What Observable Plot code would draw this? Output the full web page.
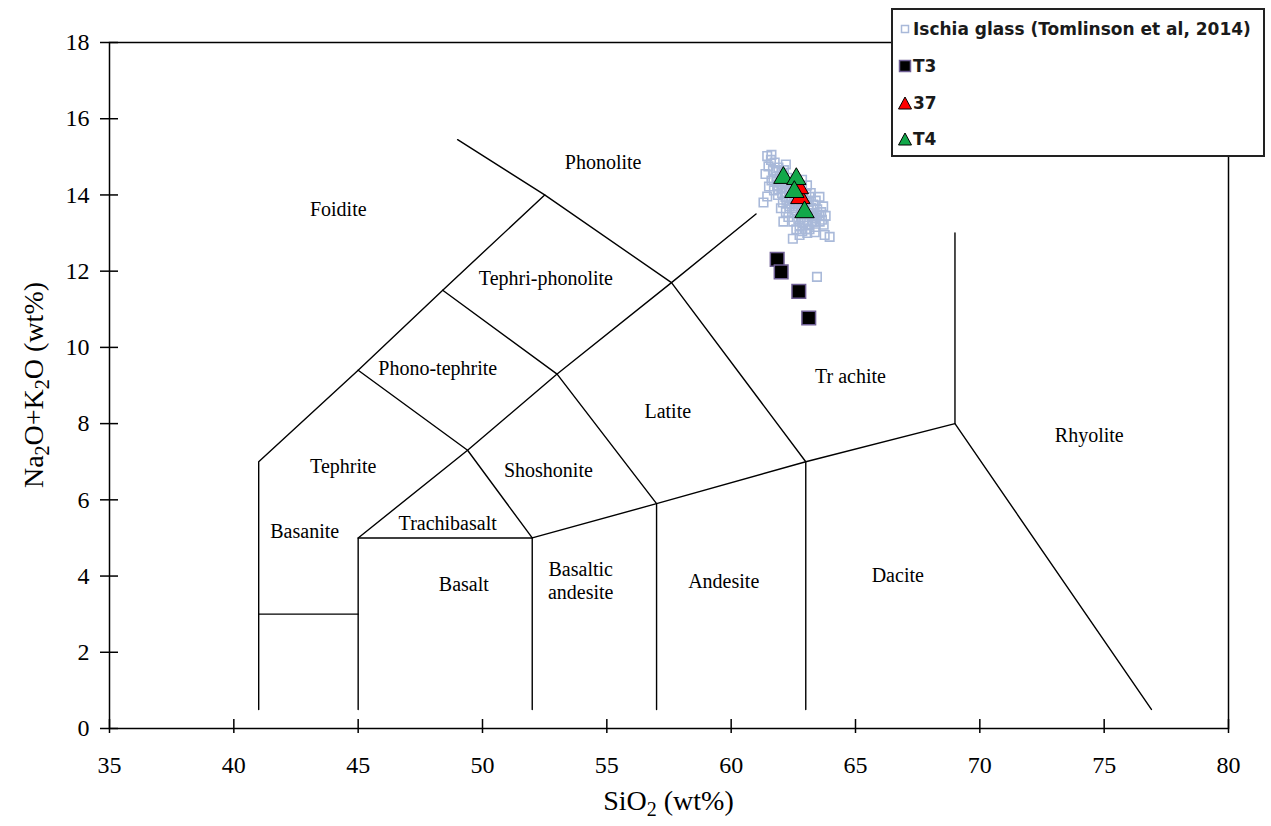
<!DOCTYPE html>
<html><head><meta charset="utf-8">
<script src="https://cdn.jsdelivr.net/npm/d3@7"></script>
<script src="https://cdn.jsdelivr.net/npm/@observablehq/plot@0.6"></script>
<style>
body{margin:0;background:#fff;}
#wrap{position:relative;width:1271px;height:826px;overflow:hidden;}
#legend{position:absolute;left:891px;top:8px;width:370px;height:145px;border:2px solid #222;background:#fff;font-family:"DejaVu Sans",sans-serif;font-weight:bold;font-size:17px;color:#1a1a1a;}
.row{position:absolute;left:5px;height:22px;display:flex;align-items:center;white-space:nowrap;}
.row svg{display:block;}
</style></head>
<body><div id="wrap"></div>
<script>
// ---- data ----
const xTicks = [35,40,45,50,55,60,65,70,75,80];
const yTicks = [0,2,4,6,8,10,12,14,16,18];

// TAS field boundaries (polylines, SiO2 vs Na2O+K2O)
const boundaries = [
  [[41,0.5],[41,7],[45,9.4],[48.4,11.5],[52.5,14],[49,15.45]],
  [[41,3],[45,3]],
  [[45,0.5],[45,5],[52,5],[52,0.5]],
  [[45,9.4],[49.4,7.3],[52,5],[57,5.9],[63,7],[69,8],[76.9,0.5]],
  [[45,5],[49.4,7.3],[53,9.3],[57.6,11.7],[61,13.5]],
  [[48.4,11.5],[53,9.3],[57,5.9],[57,0.5]],
  [[52.5,14],[57.6,11.7],[63,7],[63,0.5]],
  [[69,8],[69,13]]
];

const regionNames = ["Foidite","Phonolite","Tephri-phonolite","Phono-tephrite","Latite","Tr achite","Tephrite","Shoshonite","Basanite","Trachibasalt","Basalt","Basaltic\nandesite","Andesite","Dacite","Rhyolite"];
const regionX = [44.2,54.85,52.55,48.2,57.45,64.8,44.4,52.65,42.85,48.6,49.25,53.95,59.7,66.7,74.4];
const regionY = [13.63,14.87,11.82,9.47,8.34,9.26,6.89,6.79,5.2,5.39,3.79,3.9,3.89,4.03,7.71];

// Ischia glass (Tomlinson et al, 2014)
const glassX = [61.45,61.60,61.75,61.50,61.68,61.90,62.05,61.82,61.62,61.95,62.12,62.25,61.72,61.88,62.02,62.18,62.32,62.45,62.60,62.08,62.35,62.55,62.72,62.90,63.02,63.12,63.22,62.82,62.96,63.32,63.46,63.62,61.30,61.45,61.52,62.30,62.50,62.70,62.90,63.10,63.26,63.40,63.56,63.72,62.62,62.86,63.06,63.36,63.76,63.96,62.48,63.45,62.20,62.40,62.65,62.85,63.05,63.20,63.40,63.55,62.20,62.45,63.70,61.85,62.00,61.62,61.38,63.80,62.10,62.75,
  61.80,61.95,62.10,62.25,62.40,62.55,62.70,62.85,63.00,63.15,63.30,63.45,61.90,62.05,62.22,62.38,62.52,62.68,62.80,62.95,63.10,63.25,63.40,63.55,63.65,62.15,62.30,62.60,62.75,63.00,63.20,63.35,61.70,61.85,62.00,62.15,62.95,63.15];
const glassY = [15.02,14.92,14.85,14.75,14.65,14.72,14.58,14.48,14.38,14.32,14.65,14.45,14.12,14.00,14.18,13.95,14.12,13.88,14.02,13.80,13.70,13.76,13.82,13.92,14.02,13.82,13.66,13.62,13.50,13.52,13.62,13.55,13.80,13.96,14.22,13.42,13.30,13.36,13.26,13.20,13.30,13.16,13.30,13.22,13.10,13.05,13.00,13.02,12.95,12.90,12.85,11.85,14.80,14.30,14.25,14.40,14.25,14.05,13.85,13.95,13.55,13.55,13.70,14.25,13.65,15.05,14.55,13.45,13.30,12.95,
  14.60,14.50,14.40,14.30,14.20,14.15,14.10,14.15,13.85,13.95,13.75,13.45,14.15,14.05,13.85,13.95,13.65,13.70,13.40,13.70,13.60,13.45,13.40,13.45,13.35,14.20,13.85,13.60,13.20,13.10,13.50,13.30,14.40,14.35,14.40,14.05,13.35,13.10];

const t3X = [61.85,62.01,62.72,63.12];
const t3Y = [12.31,11.98,11.47,10.77];

const s37X = [62.78,62.72];
const s37Y = [13.92,14.18];

const t4X = [62.10,62.62,62.54,62.95];
const t4Y = [14.45,14.42,14.08,13.55];

// ---- build tables ----
const boundaryRows = boundaries.flatMap((pts, i) => pts.map(([x, y]) => ({x, y, seg: i})));
const regions = regionNames.map((t, i) => ({t, x: regionX[i], y: regionY[i]}));
const zip = (X, Y) => X.map((x, i) => ({x, y: Y[i]}));
const glass = zip(glassX, glassY);
const t3 = zip(t3X, t3Y);
const s37 = zip(s37X, s37Y);
const t4 = zip(t4X, t4Y);

const W = 1271, H = 826, mL = 109, mR = 43, mT = 42, mB = 98;

const chart = Plot.plot({
  width: W, height: H,
  marginTop: mT, marginBottom: mB, marginLeft: mL, marginRight: mR,
  x: {domain: [35, 80]},
  y: {domain: [0, 18]},
  style: {fontFamily: "Liberation Serif", color: "#000", background: "#fff", overflow: "visible"},
  marks: [
    Plot.frame({stroke: "#000", strokeWidth: 1.5}),
    Plot.line(boundaryRows, {x: "x", y: "y", z: "seg", stroke: "#000", strokeWidth: 1.4}),
    Plot.text(regions, {x: "x", y: "y", text: "t", fontSize: 20, lineHeight: 1.15, fill: "#000"}),
    Plot.dot(glass, {x: "x", y: "y", symbol: "square", r: 4.8, fill: "none", stroke: "#a9b9d9", strokeWidth: 1.6}),
    Plot.dot(t3, {x: "x", y: "y", symbol: "square", r: 7.7, fill: "#000", stroke: "#6f5f95", strokeWidth: 1.5}),
    Plot.dot(s37, {x: "x", y: "y", symbol: "triangle", r: 7.2, fill: "#ff0000", stroke: "#000", strokeWidth: 1}),
    Plot.dot(t4, {x: "x", y: "y", symbol: "triangle", r: 7.2, fill: "#12a84a", stroke: "#000", strokeWidth: 1}),
    Plot.axisX({ticks: xTicks, tickSize: 14, dy: -9, tickFormat: () => "", label: null, strokeWidth: 1.5}),
    Plot.axisX({ticks: xTicks, tickSize: 0, tickPadding: 27, fontSize: 24, label: null}),
    Plot.axisY({ticks: yTicks, tickSize: 18, dx: 9, tickFormat: () => "", label: null, strokeWidth: 1.5}),
    Plot.axisY({ticks: yTicks, tickSize: 0, tickPadding: 20, fontSize: 24, label: null})
  ]
});

// axis titles with subscripts
const svg = d3.select(chart);
const xt = svg.append("text")
  .attr("x", mL + (W - mL - mR) / 2).attr("y", 810)
  .attr("text-anchor", "middle").attr("font-family", "Liberation Serif").attr("font-size", 28).attr("fill", "#000");
xt.append("tspan").text("SiO");
xt.append("tspan").attr("font-size", 20).attr("dy", 6).text("2");
xt.append("tspan").attr("dy", -6).text(" (wt%)");

const yt = svg.append("text")
  .attr("transform", `translate(43,${mT + (H - mT - mB) / 2}) rotate(-90)`)
  .attr("text-anchor", "middle").attr("font-family", "Liberation Serif").attr("font-size", 28).attr("fill", "#000");
yt.append("tspan").text("Na");
yt.append("tspan").attr("font-size", 20).attr("dy", 6).text("2");
yt.append("tspan").attr("dy", -6).text("O+K");
yt.append("tspan").attr("font-size", 20).attr("dy", 6).text("2");
yt.append("tspan").attr("dy", -6).text("O (wt%)");

const wrap = document.getElementById("wrap");
wrap.appendChild(chart);

// legend
const legendItems = [
  {label: "Ischia glass (Tomlinson et al, 2014)", sw: '<svg width="14" height="14"><rect x="3.5" y="3.5" width="7" height="7" fill="none" stroke="#a9b9d9" stroke-width="1.5"/></svg>', top: 8},
  {label: "T3", sw: '<svg width="14" height="14"><rect x="1.5" y="1.5" width="11" height="11" fill="#000" stroke="#6f5f95" stroke-width="1.5"/></svg>', top: 45},
  {label: "37", sw: '<svg width="14" height="14"><polygon points="7,1 13.5,13 0.5,13" fill="#ff0000" stroke="#000" stroke-width="1"/></svg>', top: 82},
  {label: "T4", sw: '<svg width="14" height="14"><polygon points="7,1 13.5,13 0.5,13" fill="#12a84a" stroke="#000" stroke-width="1"/></svg>', top: 118}
];
const lg = document.createElement("div");
lg.id = "legend";
lg.innerHTML = legendItems.map(d => `<div class="row" style="top:${d.top}px">${d.sw}<span style="margin-left:1px">${d.label}</span></div>`).join("");
wrap.appendChild(lg);
</script></body></html>
